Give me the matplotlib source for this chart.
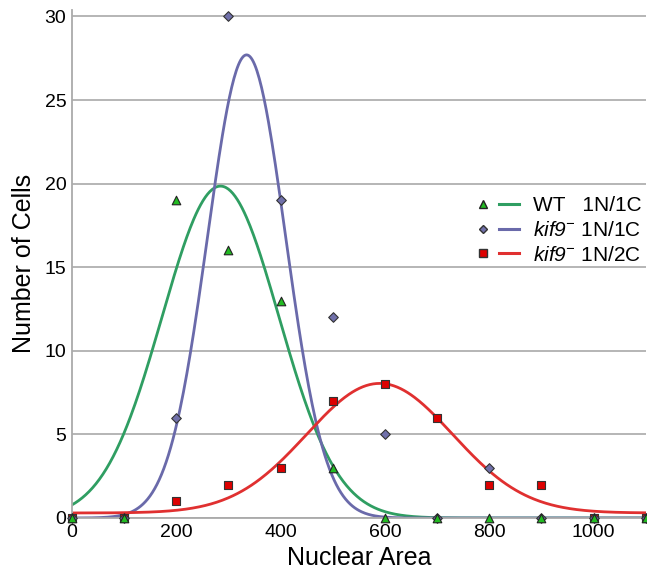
import numpy as np
import matplotlib
matplotlib.use("Agg")
import matplotlib.pyplot as plt
from matplotlib.lines import Line2D
from matplotlib.legend_handler import HandlerTuple

plt.rcParams['font.family'] = ['Liberation Sans', 'DejaVu Sans']
plt.rcParams['mathtext.fontset'] = 'custom'
plt.rcParams['mathtext.rm'] = 'Liberation Sans:italic'
plt.rcParams['mathtext.it'] = 'Liberation Sans:italic'

# measured points
area = [0, 100, 200, 300, 400, 500, 600, 700, 800, 900, 1000, 1100]
wt_1n1c = [0, 0, 19, 16, 13, 3, 0, 0, 0, 0, 0, 0]
kif9_1n1c = [0, 0, 6, 30, 19, 12, 5, 0, 3, 0, 0, 0]
kif9_1n2c = [0, 0, 1, 2, 3, 7, 8, 6, 2, 2, 0, 0]

# gaussian fit parameters (amplitude, mean, sd, offset)
wt_fit = (19.85, 285, 112, 0.0)
kif9_1c_fit = (27.7, 335, 75, 0.0)
kif9_2c_fit = (7.75, 590, 140, 0.3)

green = '#2f9e62'
blue = '#6a6aaa'
red = '#e03030'

def gauss(x, p):
    a, m, s, c = p
    return a * np.exp(-(x - m) ** 2 / (2 * s ** 2)) + c

xs = np.linspace(0, 1100, 500)

fig = plt.figure(figsize=(6.47, 5.73), dpi=100)
ax = fig.add_axes([0.111, 0.096, 0.887, 0.887])

ax.plot(xs, gauss(xs, wt_fit), color=green, lw=2)
ax.plot(xs, gauss(xs, kif9_1c_fit), color=blue, lw=2)
ax.plot(xs, gauss(xs, kif9_2c_fit), color=red, lw=2)

ax.scatter(area, kif9_1n2c, marker='s', s=40, color='#dd0000', edgecolor='#333333', lw=0.8, zorder=3, clip_on=False)
ax.scatter(area, kif9_1n1c, marker='D', s=24, color='#7070aa', edgecolor='#333333', lw=0.8, zorder=4, clip_on=False)
ax.scatter(area, wt_1n1c, marker='^', s=38, color='#22bb22', edgecolor='#222222', lw=0.8, zorder=5, clip_on=False)

ax.set_xlim(0, 1100)
ax.set_ylim(0, 30.4)
ax.set_xticks([0, 200, 400, 600, 800, 1000])
ax.set_yticks([0, 5, 10, 15, 20, 25, 30])
ax.tick_params(labelsize=14, length=0, pad=4)
ax.yaxis.grid(True, color='#b0b0b0', lw=1.3)
ax.set_axisbelow(True)
for s in ['top', 'right']:
    ax.spines[s].set_visible(False)
for s in ['left', 'bottom']:
    ax.spines[s].set_color('#aaaaaa')
    ax.spines[s].set_linewidth(1.3)

ax.set_xlabel('Nuclear Area', fontsize=18, labelpad=4)
ax.set_ylabel('Number of Cells', fontsize=18, labelpad=6)

h1 = (Line2D([], [], marker='^', ls='', color='#22bb22', mec='#222222', ms=6),
      Line2D([], [], color=green, lw=2.2))
h2 = (Line2D([], [], marker='D', ls='', color='#7070aa', mec='#333333', ms=4.5),
      Line2D([], [], color=blue, lw=2.2))
h3 = (Line2D([], [], marker='s', ls='', color='#dd0000', mec='#333333', ms=6),
      Line2D([], [], color=red, lw=2.2))
leg = ax.legend([h1, h2, h3],
                ['WT   1N/1C', r'$kif9^{-}$ 1N/1C', r'$kif9^{-}$ 1N/2C'],
                handler_map={tuple: HandlerTuple(ndivide=None, pad=0.3)},
                handlelength=2.2, loc='center right', bbox_to_anchor=(0.995, 0.566),
                borderaxespad=0, frameon=True, facecolor='white', edgecolor='none',
                framealpha=1, fontsize=15, labelspacing=0.28, handletextpad=0.7,
                borderpad=0.05)

fig.savefig('out.png', dpi=100)
